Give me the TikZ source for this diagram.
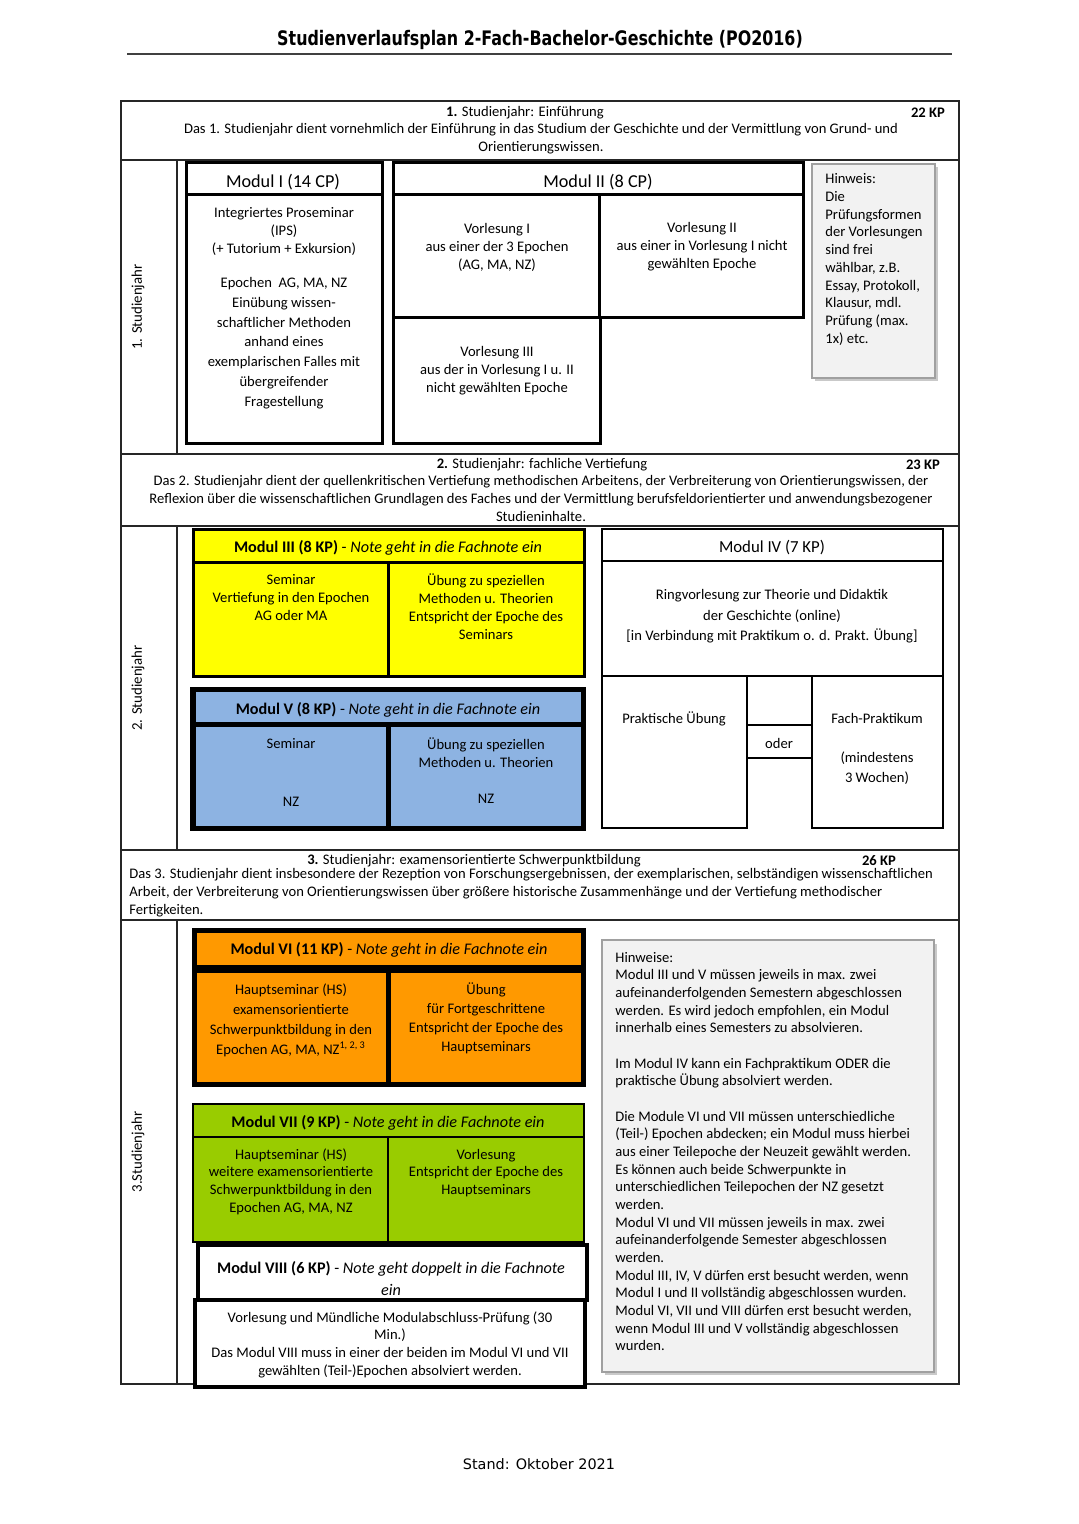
\documentclass[tikz,border=0pt]{standalone}
\usepackage{fontspec}
\setmainfont{Carlito}
\newfontfamily\titlefont{DejaVu Sans}
\usepackage{graphicx}
\definecolor{modyellow}{HTML}{FFFF00}
\definecolor{modblue}{HTML}{8DB3E2}
\definecolor{modorange}{HTML}{FF9900}
\definecolor{modgreen}{HTML}{99CC00}
\definecolor{notefill}{HTML}{F2F2F2}
\definecolor{noteborder}{HTML}{A0A0A0}
\begin{document}
\begin{tikzpicture}[x=0.5pt,y=-0.5pt,
  tbl/.style={line width=0.8pt, draw=black!85},
  mod/.style={line width=1.5pt},
  thinmod/.style={line width=1.1pt},
  body/.style={font=\fontsize{7.3}{9}\selectfont, inner sep=0pt, align=center, yshift=-0.5pt},
  bodywide/.style={font=\fontsize{7.3}{10}\selectfont, inner sep=0pt, align=center, yshift=-0.5pt},
  bodyl/.style={font=\fontsize{7.3}{8.84}\selectfont, inner sep=0pt, align=left, anchor=west},
  mhead/.style={font=\fontsize{8.1}{11}\selectfont, inner sep=0pt, align=center, yshift=-1pt},
  bighead/.style={font=\fontsize{9.1}{11}\selectfont, inner sep=0pt, yshift=-1pt},
  yearlbl/.style={font=\fontsize{7.4}{9}\selectfont, inner sep=0pt, rotate=90},
  notebox/.style={fill=notefill, draw=noteborder, line width=1pt},
  noteshadow/.style={fill=black!35, opacity=0.6},
]
\useasboundingbox[fill=white] (0,0) rectangle (1078,1524);

% title
\node[font=\titlefont\bfseries\fontsize{10}{12}\selectfont, inner sep=0pt] (title) at (540,40)
  {\scalebox{0.795}[1]{Studienverlaufsplan 2-Fach-Bachelor-Geschichte (PO2016)}};
\coordinate (ruleL) at (127,54);
\coordinate (ruleR) at (952,54);
\draw[line width=1pt, draw=black!75] (ruleL) -- (ruleR);

% table frame
\draw[tbl] (121,101) rectangle (959,1384);
\draw[tbl] (121,160) -- (959,160);
\draw[tbl] (121,454) -- (959,454);
\draw[tbl] (121,526) -- (959,526);
\draw[tbl] (121,850) -- (959,850);
\draw[tbl] (121,920) -- (959,920);
\draw[tbl] (177,160) -- (177,454);
\draw[tbl] (177,526) -- (177,850);
\draw[tbl] (177,920) -- (177,1384);

% row headers
\node[body, yshift=-0.5pt] (y1title) at (525,111) {\textbf{1.} Studienjahr: Einführung};
\node[body, yshift=-0.5pt] (y1kp) at (928,111) {\textbf{22 KP}};
\node[body, yshift=-0.5pt] (y1desc) at (541,137) {Das 1. Studienjahr dient vornehmlich der Einführung in das Studium der Geschichte und der Vermittlung von Grund- und\\Orientierungswissen.};

\node[body, yshift=-0.5pt] (y2title) at (542,463) {\textbf{2.} Studienjahr: fachliche Vertiefung};
\node[body, yshift=-0.5pt] (y2kp) at (923,463) {\textbf{23 KP}};
\node[body] (y2desc) at (541,497.5) {Das 2. Studienjahr dient der quellenkritischen Vertiefung methodischen Arbeitens, der Verbreiterung von Orientierungswissen, der\\Reflexion über die wissenschaftlichen Grundlagen des Faches und der Vermittlung berufsfeldorientierter und anwendungsbezogener\\Studieninhalte.};

\node[body, yshift=-0.5pt] (y3title) at (474,859) {\textbf{3.} Studienjahr: examensorientierte Schwerpunktbildung};
\node[body, yshift=-0.5pt] (y3kp) at (879,859) {\textbf{26 KP}};
\node[bodyl, font=\fontsize{7.3}{9}\selectfont] (y3desc) at (129,893) {Das 3. Studienjahr dient insbesondere der Rezeption von Forschungsergebnissen, der exemplarischen, selbständigen wissenschaftlichen\\Arbeit, der Verbreiterung von Orientierungswissen über größere historische Zusammenhänge und der Vertiefung methodischer\\Fertigkeiten.};

% year labels
\node[yearlbl] (lbl1) at (138,307) {1. Studienjahr};
\node[yearlbl] (lbl2) at (138,688) {2. Studienjahr};
\node[yearlbl] (lbl3) at (138,1152) {3.Studienjahr};

% Modul I
\draw[mod] (186,163) rectangle (382,443);
\draw[mod] (186,195) -- (382,195);
\node[bighead] (m1h) at (283,180) {Modul I (14 CP)};
\node[body] (m1a) at (284,230) {Integriertes Proseminar\\(IPS)\\(+ Tutorium + Exkursion)};
\node[body, font=\fontsize{7.3}{9.9}\selectfont] (m1b) at (284,342) {Epochen\ \ AG, MA, NZ\\Einübung wissen-\\schaftlicher Methoden\\anhand eines\\exemplarischen Falles mit\\übergreifender\\Fragestellung};

% Modul II
\draw[mod] (393,163) rectangle (803,318);
\draw[mod] (393,195) -- (803,195);
\draw[mod] (599,195) -- (599,318);
\draw[mod] (393,318) rectangle (600,443);
\node[bighead] (m2h) at (598,180) {Modul II (8 CP)};
\node[body] (v1) at (497,246) {Vorlesung I\\aus einer der 3 Epochen\\(AG, MA, NZ)};
\node[body] (v2) at (702,246) {Vorlesung II\\aus einer in Vorlesung I nicht\\gewählten Epoche};
\node[body] (v3) at (497,370) {Vorlesung III\\aus der in Vorlesung I u. II\\nicht gewählten Epoche};

% Hinweis 1
\fill[noteshadow] (815,167) rectangle (938,381);
\draw[notebox] (812,164) rectangle (935,378);
\node[bodyl] (h1) at (825,259.5) {Hinweis:\\Die\\Prüfungsformen\\der Vorlesungen\\sind frei\\wählbar, z.B.\\Essay, Protokoll,\\Klausur, mdl.\\Prüfung (max.\\1x) etc.};

% Modul III
\draw[mod, fill=modyellow] (193,529) rectangle (584,676);
\draw[mod] (193,562) -- (584,562);
\draw[mod] (388,562) -- (388,676);
\node[mhead] (m3h) at (388,546) {\textbf{Modul III (8 KP)} - \textit{Note geht in die Fachnote ein}};
\node[body] (m3a) at (291,597) {Seminar\\Vertiefung in den Epochen\\AG oder MA};
\node[body] (m3b) at (486,605.5) {Übung zu speziellen\\Methoden u. Theorien\\Entspricht der Epoche des\\Seminars};

% Modul V
\fill (190,687) rectangle (586,831);
\fill[modblue] (196,692) rectangle (581,722);
\fill[modblue] (196,727) rectangle (386,826);
\fill[modblue] (391,727) rectangle (581,826);
\node[mhead] (m5h) at (388,707.5) {\textbf{Modul V (8 KP)} - \textit{Note geht in die Fachnote ein}};
\node[body] (m5a) at (291,743) {Seminar};
\node[body] (m5a2) at (291,801) {NZ};
\node[body] (m5b) at (486,752) {Übung zu speziellen\\Methoden u. Theorien};
\node[body] (m5b2) at (486,798) {NZ};

% Modul IV
\draw[thinmod] (602,529) rectangle (943,676);
\draw[thinmod] (602,561) -- (943,561);
\draw[thinmod] (602,676) rectangle (747,828);
\draw[thinmod] (812,676) rectangle (943,828);
\draw[thinmod] (747,725) rectangle (812,758);
\node[font=\fontsize{8.4}{10}\selectfont, inner sep=0pt, yshift=-1pt] (m4h) at (772,546) {Modul IV (7 KP)};
\node[bodywide, font=\fontsize{7.3}{10.2}\selectfont] (m4a) at (772,615.5) {Ringvorlesung zur Theorie und Didaktik\\der Geschichte (online)\\{[}in Verbindung mit Praktikum o. d. Prakt. Übung]};
\node[body] (pu) at (674,718) {Praktische Übung};
\node[body] (oder) at (779,742) {oder};
\node[body] (fp) at (877,717) {Fach-Praktikum};
\node[bodywide] (fp2) at (877,767) {(mindestens\\3 Wochen)};

% Modul VI
\fill (192,928) rectangle (586,1087);
\fill[modorange] (197,933) rectangle (581,965);
\fill[modorange] (197,973) rectangle (386,1082);
\fill[modorange] (391,973) rectangle (581,1082);
\node[mhead] (m6h) at (389,948) {\textbf{Modul VI (11 KP)} - \textit{Note geht in die Fachnote ein}};
\node[bodywide] (m6a) at (291,1019) {Hauptseminar (HS)\\examensorientierte\\Schwerpunktbildung in den\\Epochen AG, MA, NZ\textsuperscript{1, 2, 3}};
\node[bodywide, font=\fontsize{7.3}{9.6}\selectfont] (m6b) at (486,1017.5) {Übung\\für Fortgeschrittene\\Entspricht der Epoche des\\Hauptseminars};

% Modul VII
\draw[thinmod, line width=1.3pt, fill=modgreen] (193,1104) rectangle (584,1242);
\draw[thinmod, line width=1.3pt] (193,1137) -- (584,1137);
\draw[thinmod, line width=1.3pt] (388,1137) -- (388,1242);
\node[mhead] (m7h) at (388,1121) {\textbf{Modul VII (9 KP)} - \textit{Note geht in die Fachnote ein}};
\node[body, font=\fontsize{7.3}{8.85}\selectfont] (m7a) at (291,1180.5) {Hauptseminar (HS)\\weitere examensorientierte\\Schwerpunktbildung in den\\Epochen AG, MA, NZ};
\node[body, font=\fontsize{7.3}{8.85}\selectfont] (m7b) at (486,1172) {Vorlesung\\Entspricht der Epoche des\\Hauptseminars};

% Modul VIII
\draw[line width=2.2pt] (198,1245) rectangle (587,1300);
\draw[line width=2.2pt, fill=white] (195,1300) rectangle (585,1387);
\node[mhead] (m8h) at (391,1277) {\textbf{Modul VIII (6 KP)} - \textit{Note geht doppelt in die Fachnote}\\\textit{ein}};
\node[body, font=\fontsize{7.3}{8.85}\selectfont] (m8b) at (390,1343.5) {Vorlesung und Mündliche Modulabschluss-Prüfung (30\\Min.)\\Das Modul VIII muss in einer der beiden im Modul VI und VII\\gewählten (Teil-)Epochen absolviert werden.};

% Hinweise 2
\fill[noteshadow] (605,944) rectangle (937,1375);
\draw[notebox] (602,940) rectangle (934,1372);
\node[bodyl] (h2) at (615,1151.5) {Hinweise:\\Modul III und V müssen jeweils in max. zwei\\aufeinanderfolgenden Semestern abgeschlossen\\werden. Es wird jedoch empfohlen, ein Modul\\innerhalb eines Semesters zu absolvieren.\\[8.84pt]Im Modul IV kann ein Fachpraktikum ODER die\\praktische Übung absolviert werden.\\[8.84pt]Die Module VI und VII müssen unterschiedliche\\(Teil-) Epochen abdecken; ein Modul muss hierbei\\aus einer Teilepoche der Neuzeit gewählt werden.\\Es können auch beide Schwerpunkte in\\unterschiedlichen Teilepochen der NZ gesetzt\\werden.\\Modul VI und VII müssen jeweils in max. zwei\\aufeinanderfolgende Semester abgeschlossen\\werden.\\Modul III, IV, V dürfen erst besucht werden, wenn\\Modul I und II vollständig abgeschlossen wurden.\\Modul VI, VII und VIII dürfen erst besucht werden,\\wenn Modul III und V vollständig abgeschlossen\\wurden.};

% footer
\node[font=\titlefont\fontsize{7.2}{9}\selectfont, inner sep=0pt] (stand) at (539,1464) {Stand: Oktober 2021};
\end{tikzpicture}
\end{document}
